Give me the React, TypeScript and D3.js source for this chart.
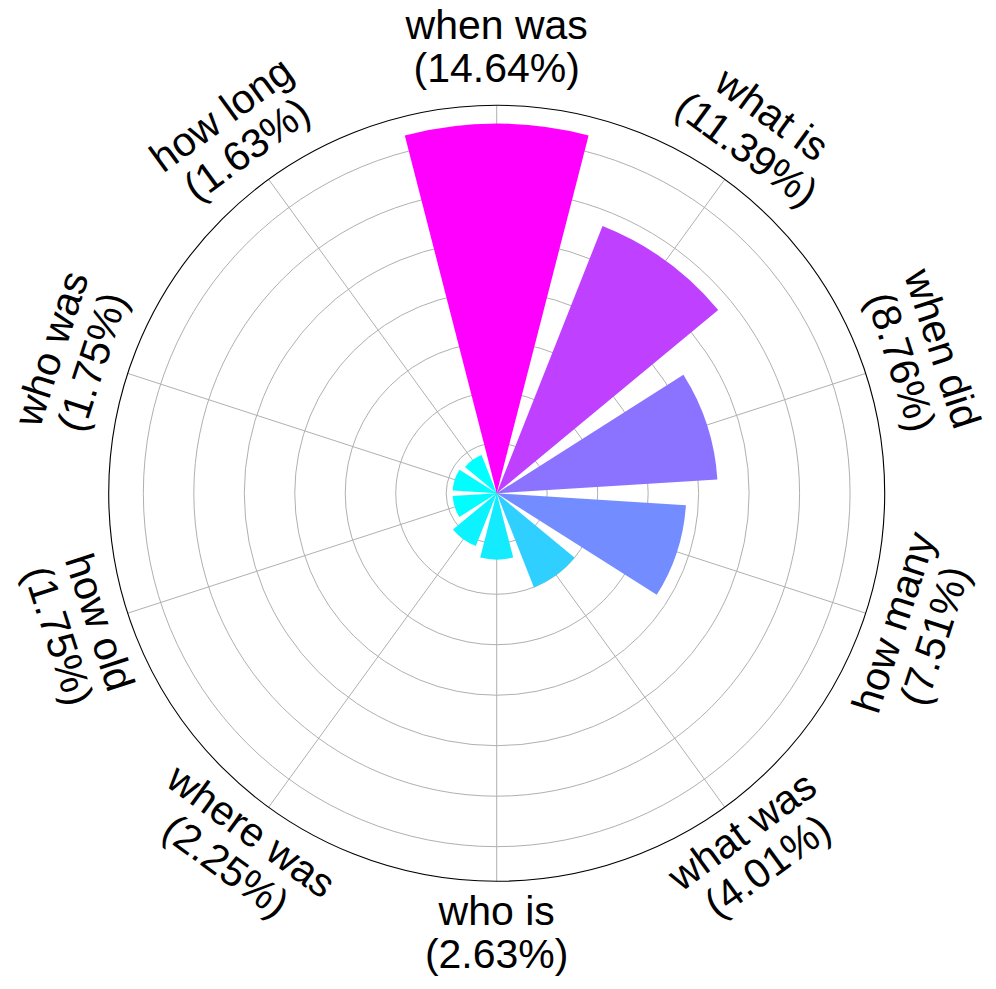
import React from "react";
import * as d3 from "d3";

// question prefixes, clockwise from the top
const categories = [
  "when was", "what is", "when did", "how many", "what was",
  "who is", "where was", "how old", "who was", "how long",
];
// share of questions, percent
const shares = [14.64, 11.39, 8.76, 7.51, 4.01, 2.63, 2.25, 1.75, 1.75, 1.63];
// radial grid rings
const ringTicks = [2, 4, 6, 8, 10, 12, 14];

const W = 996;
const H = 989;
const cx = 496.7;
const cy = 493.3;
const outerR = 388;
const labelR = 443;
const fontSize = 41;
const lineStep = 43.3;

export default function App() {
  const n = categories.length;
  const step = (2 * Math.PI) / n;
  const barWidth = step * 0.8;

  // radius axis, a bit of headroom above the biggest bar like matplotlib does
  const rScale = d3.scaleLinear().domain([0, d3.max(shares)! * 1.05]).range([0, outerR]);

  // "cool" colormap: cyan -> magenta, normalised on the values
  const color = d3
    .scaleLinear<string>()
    .domain([d3.min(shares)!, d3.max(shares)!])
    .range(["#00ffff", "#ff00ff"])
    .interpolate(d3.interpolateRgb);

  const arc = d3.arc<number>()
    .innerRadius(0)
    .outerRadius((d) => rScale(d))
    .startAngle((_, i) => i * step - barWidth / 2)
    .endAngle((_, i) => i * step + barWidth / 2);

  return (
    <svg
      width={W}
      height={H}
      style={{ position: "absolute", left: 0, top: 0, background: "#fff" }}
      fontFamily="'Liberation Sans', Arial, sans-serif"
    >
      <g transform={`translate(${cx},${cy})`}>
        {/* grid */}
        {ringTicks.map((t) => (
          <circle key={t} r={rScale(t)} fill="none" stroke="#b0b0b0" strokeWidth={1} />
        ))}
        {categories.map((c, i) => {
          const a = i * step;
          return (
            <line
              key={c}
              x1={0}
              y1={0}
              x2={outerR * Math.sin(a)}
              y2={-outerR * Math.cos(a)}
              stroke="#b0b0b0"
              strokeWidth={1}
            />
          );
        })}

        {/* bars */}
        {shares.map((v, i) => (
          <path key={categories[i]} d={arc(v, i) as string} fill={color(v)} />
        ))}

        <circle r={outerR} fill="none" stroke="#000" strokeWidth={1.1} />

        {/* labels */}
        {categories.map((c, i) => {
          const deg = (i * 360) / n;
          const a = i * step;
          const rot = deg > 90 && deg < 270 ? deg - 180 : deg;
          const x = labelR * Math.sin(a);
          const y = -labelR * Math.cos(a);
          return (
            <g key={c} transform={`translate(${x},${y}) rotate(${rot})`}>
              <text textAnchor="middle" fontSize={fontSize} fill="#000">
                <tspan x={0} y={-lineStep / 2 + 10}>{c}</tspan>
                <tspan x={0} y={lineStep / 2 + 10}>{`(${shares[i].toFixed(2)}%)`}</tspan>
              </text>
            </g>
          );
        })}
      </g>
    </svg>
  );
}
